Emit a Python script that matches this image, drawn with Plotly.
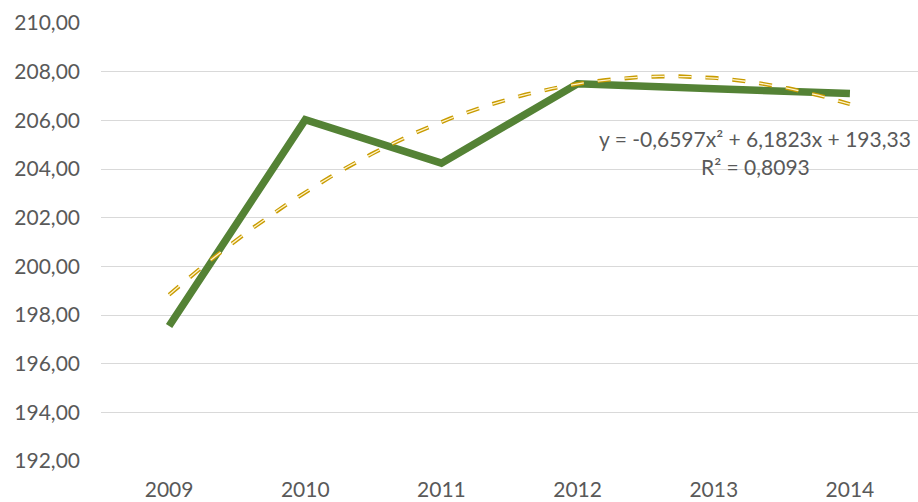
import numpy as np
import plotly.graph_objects as go

years = ["2009", "2010", "2011", "2012", "2013", "2014"]
values = [197.55, 206.03, 204.24, 207.50, 207.30, 207.10]
y_ticks = [192, 194, 196, 198, 200, 202, 204, 206, 208, 210]
y_tick_labels = ["192,00", "194,00", "196,00", "198,00", "200,00",
                 "202,00", "204,00", "206,00", "208,00", "210,00"]
equation_text = "y = -0,6597x² + 6,1823x + 193,33"
r2_text = "R² = 0,8093"

x_idx = np.arange(1, len(years) + 1)
coef = np.polyfit(x_idx, values, 2)
x_fine = np.linspace(1, len(years), 200)
trend = np.polyval(coef, x_fine)

FONT = "Lato, 'Liberation Sans', Arial, sans-serif"
TXT = "#595959"

fig = go.Figure()
fig.add_trace(go.Scatter(
    x=x_idx, y=values, mode="lines",
    line=dict(color="#548235", width=7.5),
    hoverinfo="skip", showlegend=False))
fig.add_trace(go.Scatter(
    x=x_fine, y=trend, mode="lines",
    line=dict(color="#C89B00", width=4, dash="13px,14px"),
    hoverinfo="skip", showlegend=False))
fig.add_trace(go.Scatter(
    x=x_fine, y=trend, mode="lines",
    line=dict(color="#FFF4CC", width=1.3, dash="13px,14px"),
    hoverinfo="skip", showlegend=False))

fig.add_annotation(
    xref="paper", yref="paper", x=0.801, y=(461 - 138) / 438,
    text=equation_text,
    showarrow=False, xanchor="center", yanchor="middle",
    font=dict(family=FONT, size=21, color=TXT))
fig.add_annotation(
    xref="paper", yref="paper", x=0.801, y=(461 - 166) / 438,
    text=r2_text,
    showarrow=False, xanchor="center", yanchor="middle",
    font=dict(family=FONT, size=21, color=TXT))

fig.update_layout(
    width=918, height=502,
    margin=dict(l=101, r=0, t=23, b=41, autoexpand=False),
    paper_bgcolor="white", plot_bgcolor="white",
    font=dict(family=FONT, size=21, color=TXT),
    xaxis=dict(
        range=[0.5, len(years) + 0.5], automargin=False,
        tickmode="array", tickvals=list(x_idx), ticktext=years,
        showgrid=False, zeroline=False, showline=False, ticks="",
        ticklabelstandoff=14,
        tickfont=dict(family=FONT, size=21, color=TXT)),
    yaxis=dict(
        range=[192, 210], automargin=False,
        tickmode="array", tickvals=y_ticks, ticktext=y_tick_labels,
        showgrid=True, gridcolor="#D9D9D9", gridwidth=1.3,
        zeroline=False, showline=False, ticks="",
        ticklabelstandoff=20,
        tickfont=dict(family=FONT, size=21, color=TXT)),
)

fig.write_html("out.html", config={"displayModeBar": False},
               post_script="document.body.style.margin='0';document.body.style.overflow='hidden';")
